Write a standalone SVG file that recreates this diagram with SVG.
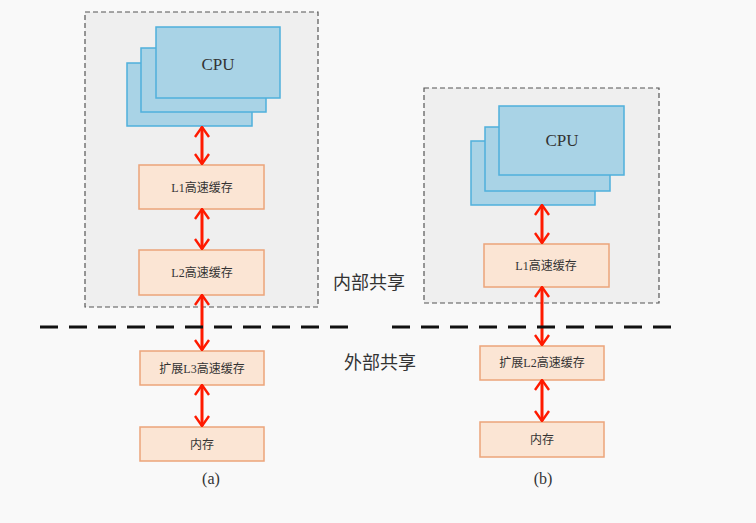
<svg xmlns="http://www.w3.org/2000/svg" width="756" height="523" viewBox="0 0 756 523">
<defs>
<marker id="ah" viewBox="0 0 12 16" refX="11" refY="8" markerWidth="12" markerHeight="16" markerUnits="userSpaceOnUse" orient="auto-start-reverse">
<path d="M1,1 L11,8 L1,15" fill="none" stroke="#ff1a00" stroke-width="2.4"/>
</marker>
<style>
.grp{fill:#efefef;stroke:#555;stroke-width:1.2;stroke-dasharray:5,3}
.cpu{fill:#a9d3e6;stroke:#4fb0dc;stroke-width:1.5}
.box{fill:#fbe5d4;stroke:#eca47a;stroke-width:1.5}
.t{font-family:"Liberation Serif","Noto Sans CJK SC",serif;fill:#333;text-anchor:middle}
.s{font-size:12px}
.c{stroke:#ff1a00;stroke-width:3;fill:none;marker-start:url(#ah);marker-end:url(#ah)}
.div{stroke:#111;stroke-width:3;stroke-dasharray:18,11}
</style>
</defs>
<rect width="756" height="523" fill="#f9f9f9"/>
<g id="groupA"><rect class="grp" x="85" y="12" width="233" height="295"/></g>
<g id="groupB"><rect class="grp" x="424" y="88" width="235" height="215"/></g>
<g id="cpuA">
<rect class="cpu" x="127" y="63" width="125" height="63"/>
<rect class="cpu" x="141" y="48" width="125" height="64"/>
<rect class="cpu" x="156" y="27" width="124" height="71"/>
<text class="t" x="218" y="70" font-size="17">CPU</text>
</g>
<g id="l1A"><rect class="box" x="139" y="165" width="125" height="44"/><text class="t s" x="202" y="192">L1高速缓存</text></g>
<g id="l2A"><rect class="box" x="139" y="250" width="125" height="45"/><text class="t s" x="202" y="277">L2高速缓存</text></g>
<g id="l3A"><rect class="box" x="140" y="351" width="124" height="34"/><text class="t s" x="202" y="373">扩展L3高速缓存</text></g>
<g id="memA"><rect class="box" x="140" y="427" width="124" height="34"/><text class="t s" x="202" y="449">内存</text></g>
<g id="cpuB">
<rect class="cpu" x="471" y="141" width="124" height="64"/>
<rect class="cpu" x="485" y="127" width="125" height="64"/>
<rect class="cpu" x="499" y="106" width="125" height="69"/>
<text class="t" x="562" y="146" font-size="17">CPU</text>
</g>
<g id="l1B"><rect class="box" x="484" y="244" width="125" height="43"/><text class="t s" x="546" y="270">L1高速缓存</text></g>
<g id="l2B"><rect class="box" x="480" y="346" width="124" height="34"/><text class="t s" x="542" y="367">扩展L2高速缓存</text></g>
<g id="memB"><rect class="box" x="480" y="422" width="124" height="35"/><text class="t s" x="542" y="444">内存</text></g>
<g id="connectors">
<line class="c" x1="202" y1="127" x2="202" y2="164"/>
<line class="c" x1="202" y1="209" x2="202" y2="249"/>
<line class="c" x1="202" y1="295" x2="202" y2="350"/>
<line class="c" x1="202" y1="385" x2="202" y2="426"/>
<line class="c" x1="542" y1="205" x2="542" y2="243"/>
<line class="c" x1="542" y1="287" x2="542" y2="345"/>
<line class="c" x1="542" y1="380" x2="542" y2="421"/>
</g>
<g id="dividers">
<line class="div" x1="40" y1="327" x2="358" y2="327"/>
<line class="div" x1="392" y1="327" x2="680" y2="327"/>
</g>
<text class="t" x="369" y="289" font-size="18">内部共享</text>
<text class="t" x="380" y="369" font-size="18">外部共享</text>
<text class="t" x="211" y="484" font-size="16">(a)</text>
<text class="t" x="543" y="484" font-size="16">(b)</text>
</svg>
